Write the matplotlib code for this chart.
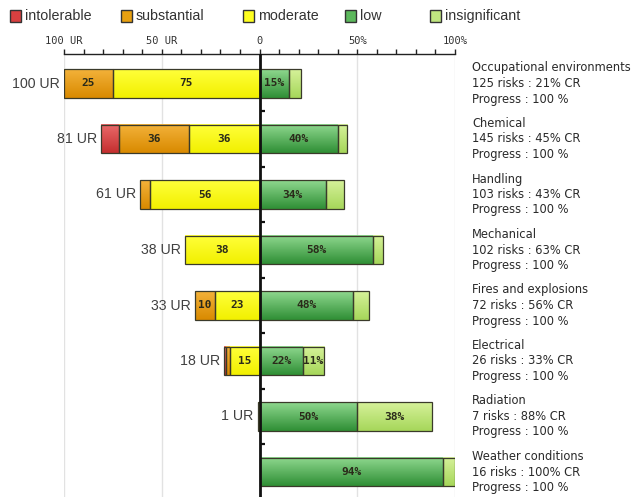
import matplotlib
matplotlib.use("Agg")
import matplotlib.pyplot as plt
import numpy as np
from matplotlib.colors import LinearSegmentedColormap
from matplotlib.patches import Rectangle

# ---- data ----
categories = ["Occupational environments", "Chemical", "Handling", "Mechanical",
              "Fires and explosions", "Electrical", "Radiation", "Weather conditions"]
risks = [125, 145, 103, 102, 72, 26, 7, 16]
cr_pct = [21, 45, 43, 63, 56, 33, 88, 100]
progress = [100, 100, 100, 100, 100, 100, 100, 100]

# residual risks (UR) per level, left side
intolerable = [0, 9, 0, 0, 0, 1, 0, 0]
substantial = [25, 36, 5, 0, 10, 2, 0, 0]
moderate = [75, 36, 56, 38, 23, 15, 1, 0]
# controlled risks (%), right side
low = [15, 40, 34, 58, 48, 22, 50, 94]
insignificant = [6, 5, 9, 5, 8, 11, 38, 6]

level_names = ["intolerable", "substantial", "moderate", "low", "insignificant"]
tick_vals = [-100, -50, 0, 50, 100]
tick_labels = ["100 UR", "50 UR", "0", "50%", "100%"]

# gradient colours (top, bottom) for each level
grad = {
    "intolerable": ("#ea6a6a", "#c42f2f"),
    "substantial": ("#f3b23a", "#d98a00"),
    "moderate": ("#ffff3a", "#f2f000"),
    "low": ("#8fd88f", "#2f8f35"),
    "insignificant": ("#d6f29a", "#a6d65a"),
}
legend_face = {
    "intolerable": "#d84040",
    "substantial": "#e8a010",
    "moderate": "#ffff20",
    "low": "#5cb85c",
    "insignificant": "#c0e680",
}

W, H = 633, 497
fig = plt.figure(figsize=(W / 100, H / 100), dpi=100)
x_left_px, x_right_px, axis_top_px = 64, 455, 54
ax = fig.add_axes([x_left_px / W, 0, (x_right_px - x_left_px) / W, 1 - axis_top_px / H])

row_step_px = 55.5
first_row_px = 83.5
y_top = -(first_row_px - axis_top_px) / row_step_px
y_bot = (H - first_row_px) / row_step_px
bar_h = 0.514

cmaps = {k: LinearSegmentedColormap.from_list(k, [v[0], v[1]]) for k, v in grad.items()}
gimg = np.linspace(0, 1, 64).reshape(-1, 1)


def draw_segment(x0, x1, y, level):
    if x1 - x0 <= 0:
        return
    yt, yb = y - bar_h / 2, y + bar_h / 2
    ax.imshow(gimg, extent=[x0, x1, yb, yt], aspect="auto", cmap=cmaps[level],
              origin="upper", zorder=2, interpolation="bilinear")
    ax.add_patch(Rectangle((x0, yt), x1 - x0, bar_h, facecolor="none",
                           edgecolor="#3a3a2a", lw=0.9, zorder=3))


label_font = dict(family="DejaVu Sans Mono", fontweight="bold", fontsize=8, color="#2a2a1a")

for i in range(len(categories)):
    # left side: moderate nearest the centre, then substantial, then intolerable
    pos = 0
    for level, vals in (("moderate", moderate), ("substantial", substantial),
                        ("intolerable", intolerable)):
        v = vals[i]
        if v > 0:
            draw_segment(-(pos + v), -pos, i, level)
            if v >= 10:
                ax.text(-(pos + v / 2), i, str(v), ha="center", va="center", zorder=4, **label_font)
        pos += v
    total_ur = pos
    if total_ur > 0:
        ax.text(-total_ur - 2.2, i, f"{total_ur} UR", ha="right", va="center",
                fontsize=10.2, color="#404040", family="Liberation Sans", zorder=4)
    # right side: low, then insignificant
    pos = 0
    for level, vals in (("low", low), ("insignificant", insignificant)):
        v = vals[i]
        if v > 0:
            draw_segment(pos, pos + v, i, level)
            if v >= 10:
                ax.text(pos + v / 2, i, f"{v}%", ha="center", va="center", zorder=4, **label_font)
        pos += v
    # description block
    tx = 108.7
    dy = 15.5 / row_step_px
    desc = dict(fontsize=8.3, color="#2a2a2a", family="DejaVu Sans", ha="left",
                va="center", clip_on=False)
    ax.text(tx, i - dy, categories[i], **desc)
    ax.text(tx, i, f"{risks[i]} risks : {cr_pct[i]}% CR", **desc)
    ax.text(tx, i + dy, f"Progress : {progress[i]} %", **desc)

# grid lines and centre axis
for gx in (-100, -50, 50, 100):
    ax.axvline(gx, color="#e2e2e2", lw=1.0, zorder=0)
ax.axvline(0, color="#111111", lw=2.0, zorder=5)
for k in range(len(categories) - 1):
    ax.plot([0, 3], [k + 0.5, k + 0.5], color="#111111", lw=1.6, zorder=5,
            solid_capstyle="butt")

ax.set_xlim(-100, 100)
ax.set_ylim(y_bot, y_top)

for s in ("left", "right", "bottom"):
    ax.spines[s].set_visible(False)
ax.spines["top"].set_color("#222222")
ax.spines["top"].set_linewidth(1.0)
ax.yaxis.set_visible(False)
ax.xaxis.tick_top()
ax.set_xticks(tick_vals)
ax.set_xticklabels(tick_labels, family="DejaVu Sans Mono", fontsize=7.5, color="#333333")
ax.set_xticks(np.arange(-100, 101, 10), minor=True)
ax.tick_params(axis="x", which="both", direction="out", length=3.5, width=1.0,
               color="#222222", pad=2)
ax.set_facecolor("none")

# legend row
leg_x = [10, 121, 243, 345, 430]
leg_y = 1 - 16 / H
for name, lx in zip(level_names, leg_x):
    fig.patches.append(Rectangle((lx / W, leg_y - 5.5 / H), 11 / W, 11 / H,
                                 transform=fig.transFigure, facecolor=legend_face[name],
                                 edgecolor="#333333", lw=1.0))
    fig.text((lx + 15) / W, leg_y, name, fontsize=10.3, color="#333333",
             family="Liberation Sans", va="center", ha="left")

fig.savefig("out.png", dpi=100)
